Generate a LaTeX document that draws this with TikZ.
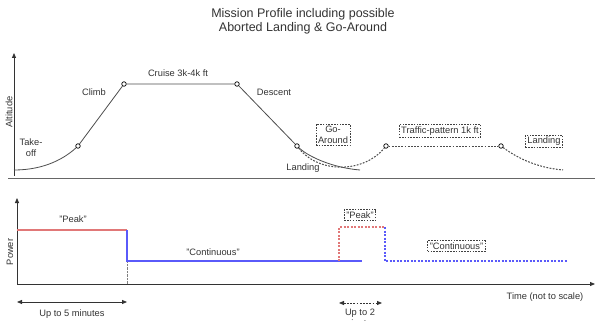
\documentclass[tikz,border=0pt]{standalone}
\usepackage{fontspec}
\setmainfont{Liberation Sans}
\usetikzlibrary{positioning,arrows.meta}

\definecolor{peakred}{RGB}{225,120,120}
\definecolor{contblue}{RGB}{90,90,250}
\newcommand{\lblfont}{\fontsize{9.3}{11}\selectfont}
\newcommand{\titlefont}{\fontsize{12.5}{13.5}\selectfont}

\tikzset{
  lbl/.style={font=\lblfont, text=black!80, inner sep=1pt, align=center},
  pt/.style={circle, draw, fill=white, inner sep=0pt, minimum size=4.5pt, line width=0.7pt},
  dashbox/.style={draw=black!75, dash pattern=on 1.5pt off 1.3pt, line width=0.8pt, inner sep=2pt, font=\lblfont, text=black!80, align=center},
  dotline/.style={dash pattern=on 1.8pt off 1.4pt, line width=1pt},
  axis/.style={line width=0.8pt, black!80, -{Triangle[length=5pt,width=4pt]}},
  both/.style={line width=0.8pt, black!80, {Triangle[length=5pt,width=4pt]}-{Triangle[length=5pt,width=4pt]}},
  prof/.style={line width=0.8pt, black!70},
  peakline/.style={color=peakred, line width=1.2pt},
  contline/.style={color=contblue, line width=1.2pt},
  peakdots/.style={color=peakred, line width=1.2pt, dash pattern=on 2pt off 1.5pt},
  contdots/.style={color=contblue, line width=1.2pt, dash pattern=on 2pt off 1.5pt},
}

\begin{document}
\begin{tikzpicture}[x=1pt,y=-1pt]
\useasboundingbox (0,0) rectangle (595,321);

% Title
\node[font=\titlefont, text=black!80, align=center] (title) at (303,21.5)
  {Mission Profile including possible\\Aborted Landing \& Go-Around};

% Altitude axis and the ground
\coordinate (alt0) at (14,176);
\coordinate (alt1) at (14,53);
\coordinate (gndL) at (8,177);
\coordinate (gndR) at (595,177);
\draw[axis] (alt0) -- (alt1);
\draw[double distance=1.6pt, line width=0.7pt, black!60] (gndL) -- (gndR);
\node[lbl, rotate=90] (altitude) at (9,112) {Altitude};

% Profile points
\coordinate (start) at (14,170);
\node[pt] (toc) at (78,146) {};
\node[pt] (top) at (124,84) {};
\node[pt] (tod) at (237,84) {};
\node[pt] (app) at (297,146) {};
\coordinate (touch) at (360,170);
\node[pt] (tp0) at (386,146) {};
\node[pt] (tp1) at (501,146) {};
\coordinate (touch2) at (563,170);

% Nominal flight
\draw[prof] (start) .. controls (45,170) and (65,158) .. (toc);
\draw[prof] (toc) -- (top) -- (tod) -- (app);
\draw[prof] (app) .. controls (310,158) and (335,168) .. (touch);

% Go-around and traffic pattern
\draw[prof, dotline] (app) .. controls (320,175) and (365,172) .. (tp0);
\draw[prof, dotline] (tp0) -- (tp1);
\draw[prof, dotline] (tp1) .. controls (520,160) and (540,168) .. (touch2);

% Phase labels
\node[lbl] (takeoff) at (31,148) {Take-\\off};
\node[lbl] (climb) at (94,92) {Climb};
\node[lbl] (cruise) at (178,73) {Cruise 3k-4k ft};
\node[lbl] (descent) at (274,92) {Descent};
\node[lbl] (landing) at (303,168) {Landing};
\node[dashbox] (goaround) at (333,135) {Go-\\Around};
\node[dashbox] (pattern) at (440,131) {Traffic-pattern 1k ft};
\node[dashbox] (landing2) at (544,141.5) {Landing};

% Power axis and time axis
\coordinate (pw0) at (17,284);
\coordinate (pw1) at (17,198);
\coordinate (tEnd) at (595,284);
\draw[axis] (pw0) -- (pw1);
\draw[axis] (pw0) -- (tEnd);
\node[lbl, rotate=90] (power) at (10,252) {Power};
\node[lbl] (time) at (545,297) {Time (not to scale)};

% Power steps
\coordinate (pk0) at (17,230);
\coordinate (pk1) at (127,230);
\coordinate (ct0) at (127,261);
\coordinate (ct1) at (362,261);
\coordinate (ctb) at (127,284);
\draw[black!50, densely dotted, line width=0.4pt] (ct0) -- (ctb);
\draw[peakline] (pk0) -- (pk1);
\draw[contline] (pk1) -- (ct0) -- (ct1);

% Power after go-around
\coordinate (rp0) at (339,261);
\coordinate (rp1) at (339,227);
\coordinate (rp2) at (385,227);
\coordinate (rc0) at (385,261);
\coordinate (rc1) at (567,261);
\draw[peakdots] (rp0) -- (rp1) -- (rp2);
\draw[contdots] (rp2) -- (rc0) -- (rc1);

\node[lbl] (peak) at (73,219) {"Peak"};
\node[lbl] (cont) at (213,252) {"Continuous"};
\node[dashbox] (peak2) at (360,215) {"Peak"};
\node[dashbox] (cont2) at (456.5,246) {"Continuous"};

% Durations
\coordinate (d5a) at (17,302);
\coordinate (d5b) at (127,302);
\coordinate (d2a) at (339,303);
\coordinate (d2b) at (382,303);
\draw[both] (d5a) -- (d5b);
\draw[both, dash pattern=on 1.8pt off 1.4pt] (d2a) -- (d2b);
\node[lbl] (five) at (72,314) {Up to 5 minutes};
\node[lbl, font=\fontsize{9.3}{10.5}\selectfont] (two) at (360,318) {Up to 2\\minutes};
\end{tikzpicture}
\end{document}
